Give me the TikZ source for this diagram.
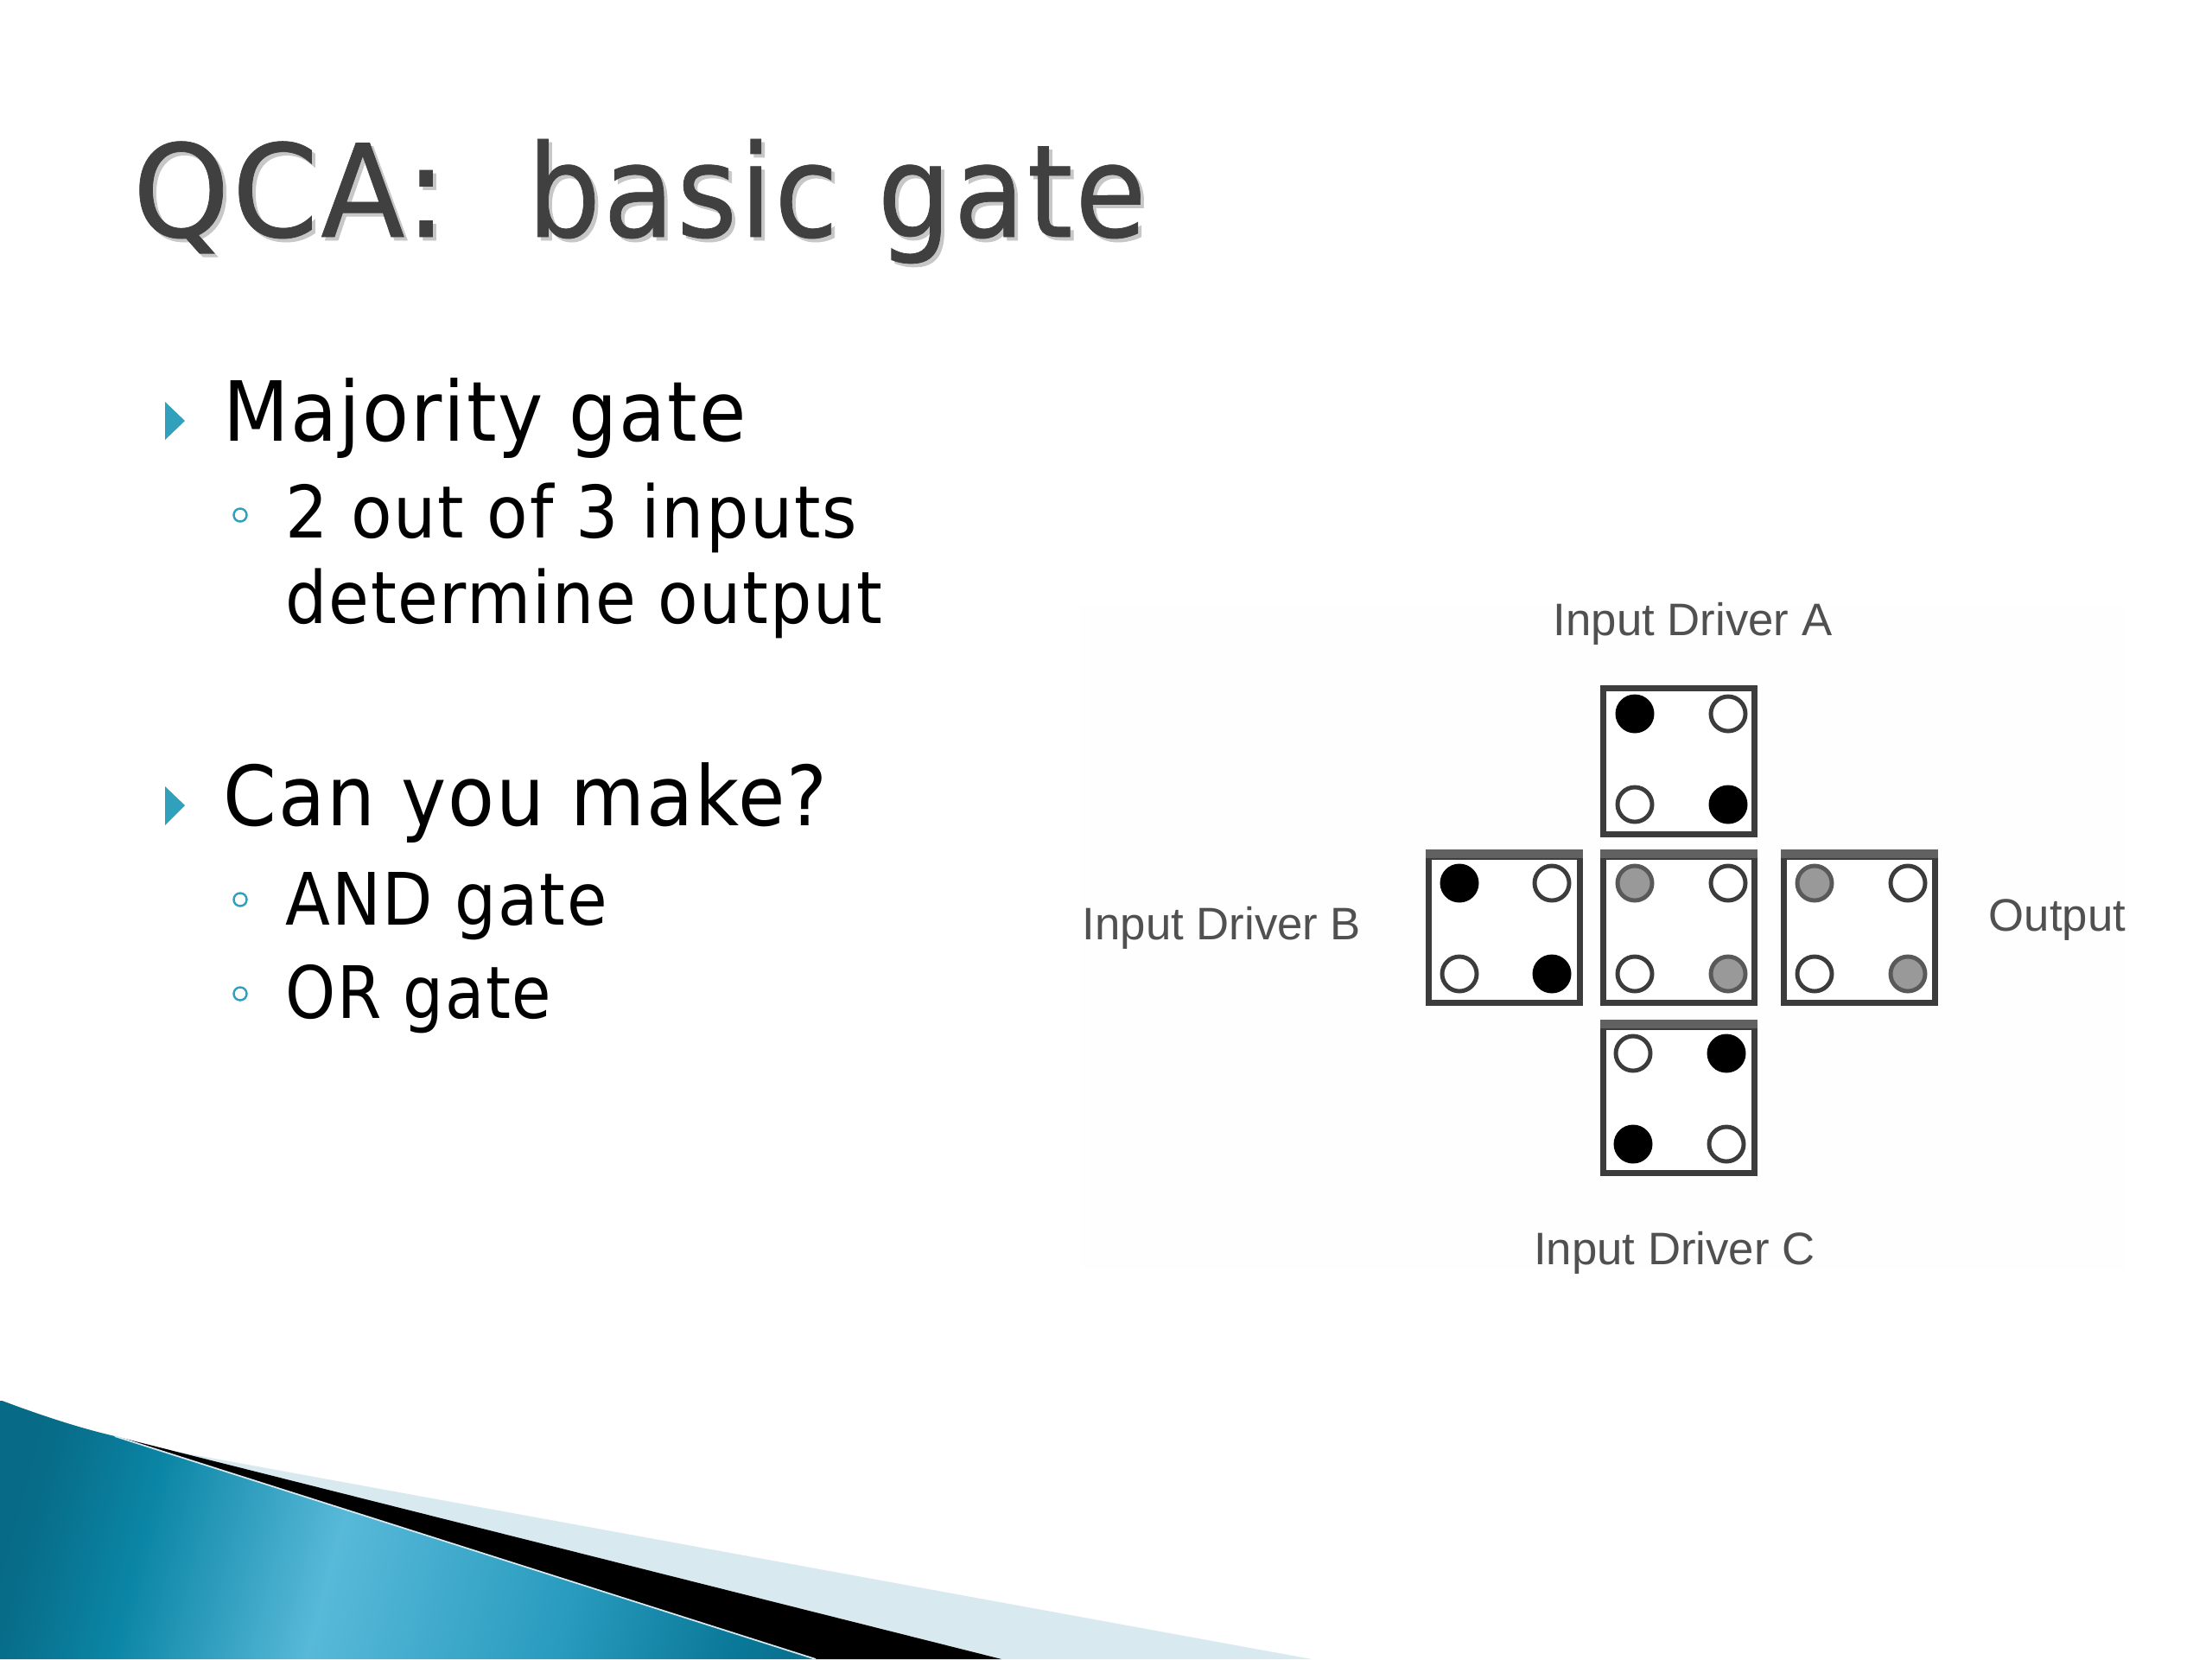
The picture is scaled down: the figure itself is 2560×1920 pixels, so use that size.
\documentclass[tikz,border=0pt]{standalone}
\usepackage{fontspec}
\setmainfont{DejaVu Sans}
\newfontfamily\labelfont{Liberation Sans}
\newfontfamily\slidefont[FakeStretch=0.92,LetterSpace=2]{DejaVu Sans}
\newfontfamily\headfont[FakeStretch=0.92,LetterSpace=2,FakeBold=0.5]{DejaVu Sans}
\definecolor{ribA}{RGB}{7,104,132}
\definecolor{ribB}{RGB}{7,108,136}
\definecolor{ribC}{RGB}{11,133,165}
\definecolor{ribD}{RGB}{88,185,217}
\definecolor{ribE}{RGB}{40,155,190}
\definecolor{ribF}{RGB}{10,120,152}
\definecolor{ribG}{RGB}{8,100,130}
\pgfdeclarehorizontalshading{ribbon}{100bp}{
  color(0bp)=(ribA);
  color(12bp)=(ribB);
  color(23bp)=(ribC);
  color(42bp)=(ribD);
  color(66bp)=(ribE);
  color(83bp)=(ribF);
  color(100bp)=(ribG)}
\definecolor{titlegray}{HTML}{404040}
\definecolor{bullet}{HTML}{31A0BD}
\definecolor{lightband}{HTML}{D9E9F0}
\definecolor{cellline}{HTML}{3C3C3C}
\definecolor{labelgray}{HTML}{505050}
\tikzset{x=0.01cm,y=-0.01cm,
  titletext/.style={anchor=base west,inner sep=0pt,font=\headfont\fontsize{42.3}{50}\selectfont},
  headtext/.style={anchor=base west,inner sep=0pt,font=\slidefont\fontsize{27.3}{33}\selectfont},
  subtext/.style={anchor=base west,inner sep=0pt,font=\slidefont\fontsize{23.8}{30}\selectfont},
  drvlabel/.style={inner sep=0pt,text=labelgray,font=\labelfont\fontsize{15}{17}\selectfont},
  headbullet/.style={fill=bullet,draw=none},
  subbullet/.style={circle,draw=bullet,line width=0.7pt,fill=white,minimum size=0.15cm,inner sep=0pt},
  cellbox/.style={draw=cellline,line width=2pt,fill=white,minimum width=1.74cm,minimum height=1.69cm,inner sep=0pt},
  topbar/.style={draw=black!62,line width=3pt,line cap=butt,yshift=-0.03cm},
  dotbase/.style={circle,minimum size=0.40cm,inner sep=0pt,line width=1.4pt},
  opendot/.style={dotbase,draw=cellline,fill=white},
  blackdot/.style={dotbase,draw=black,fill=black},
  graydot/.style={dotbase,draw=cellline!85,fill=black!40}}
\newcommand{\titlestring}{\scalebox{1.04}[1]{QCA:}~~\scalebox{0.98}[1]{basic gate}}
\begin{document}
\begin{tikzpicture}
\useasboundingbox (0,0) rectangle (2560,1920);
\fill[white] (0,0) rectangle (2560,1920);
\fill[black!0.5] (1250,700) rectangle (2460,1470);
% ribbon
\fill[lightband] (133,1662) -- (205,1680) -- (1518,1920) -- (1100,1920) -- cycle;
\fill[black] (133,1662) -- (1159,1920) -- (944,1920) -- cycle;
\begin{scope}
  \clip (0,1620) .. controls (45,1637) and (90,1652) .. (133,1662) -- (944,1920) -- (0,1920) -- cycle;
  \pgftransformcm{3.40}{0}{0.228}{0.85}{\pgfpoint{4.9cm}{-17.7cm}}
  \pgflowlevelsynccm
  \pgfuseshading{ribbon}
\end{scope}
\draw[lightband,line width=0.5pt] (133,1662) -- (944,1920);
% title
\node[titletext,text=black!22] at (157,278) {\titlestring};
\node[titletext,text=titlegray] (title) at (153,274) {\titlestring};
% bullets
\fill[headbullet] (191,465) -- (214,487) -- (191,509) -- cycle;
\fill[headbullet] (191,910) -- (214,932) -- (191,955) -- cycle;
\node[headtext] (h1) at (258,510) {Majority gate};
\node[subbullet] (b1) at (278,596) {};
\node[subtext] (s1) at (330,622) {\scalebox{1.01}[1]{2 out of 3 inputs}};
\node[subtext] (s2) at (330,721) {\scalebox{0.988}[1]{determine output}};
\node[headtext] (h2) at (258,955) {Can you make?};
\node[subbullet] (b2) at (278,1041) {};
\node[subtext] (s3) at (330,1070) {\scalebox{0.985}[1]{AND gate}};
\node[subbullet] (b3) at (278,1150) {};
\node[subtext] (s4) at (330,1178) {\scalebox{0.96}[1]{OR gate}};
% cells
\node[cellbox] (top) at (1943,881) {};
\node[opendot] (top2) at (2000,826) {};
\node[blackdot] (top1) at (1892,826) {};
\node[opendot] (top3) at (1892,931) {};
\node[blackdot] (top4) at (2000,931) {};
\node[cellbox] (lft) at (1741,1076) {};
\draw[topbar] (lft.north west) -- (lft.north east);
\node[blackdot] (lft1) at (1689,1022) {};
\node[opendot] (lft2) at (1796,1022) {};
\node[opendot] (lft3) at (1689,1127) {};
\node[blackdot] (lft4) at (1796,1127) {};
\node[cellbox] (mid) at (1943,1076) {};
\draw[topbar] (mid.north west) -- (mid.north east);
\node[graydot] (mid1) at (1892,1022) {};
\node[opendot] (mid2) at (2000,1022) {};
\node[opendot] (mid3) at (1892,1127) {};
\node[graydot] (mid4) at (2000,1127) {};
\node[cellbox] (rgt) at (2152,1076) {};
\draw[topbar] (rgt.north west) -- (rgt.north east);
\node[graydot] (rgt1) at (2100,1022) {};
\node[opendot] (rgt2) at (2208,1022) {};
\node[opendot] (rgt3) at (2100,1127) {};
\node[graydot] (rgt4) at (2208,1127) {};
\node[cellbox] (bot) at (1943,1273) {};
\draw[topbar] (bot.north west) -- (bot.north east);
\node[opendot] (bot1) at (1890,1219) {};
\node[blackdot] (bot2) at (1998,1219) {};
\node[blackdot] (bot3) at (1890,1324) {};
\node[opendot] (bot4) at (1998,1324) {};
% labels
\node[drvlabel] (la) at (1959,722) {Input Driver A};
\node[drvlabel] (lb) at (1414,1074) {Input Driver B};
\node[drvlabel] (lo) at (2381,1065) {Output};
\node[drvlabel] (lc) at (1938,1450) {Input Driver C};
\end{tikzpicture}
\end{document}
